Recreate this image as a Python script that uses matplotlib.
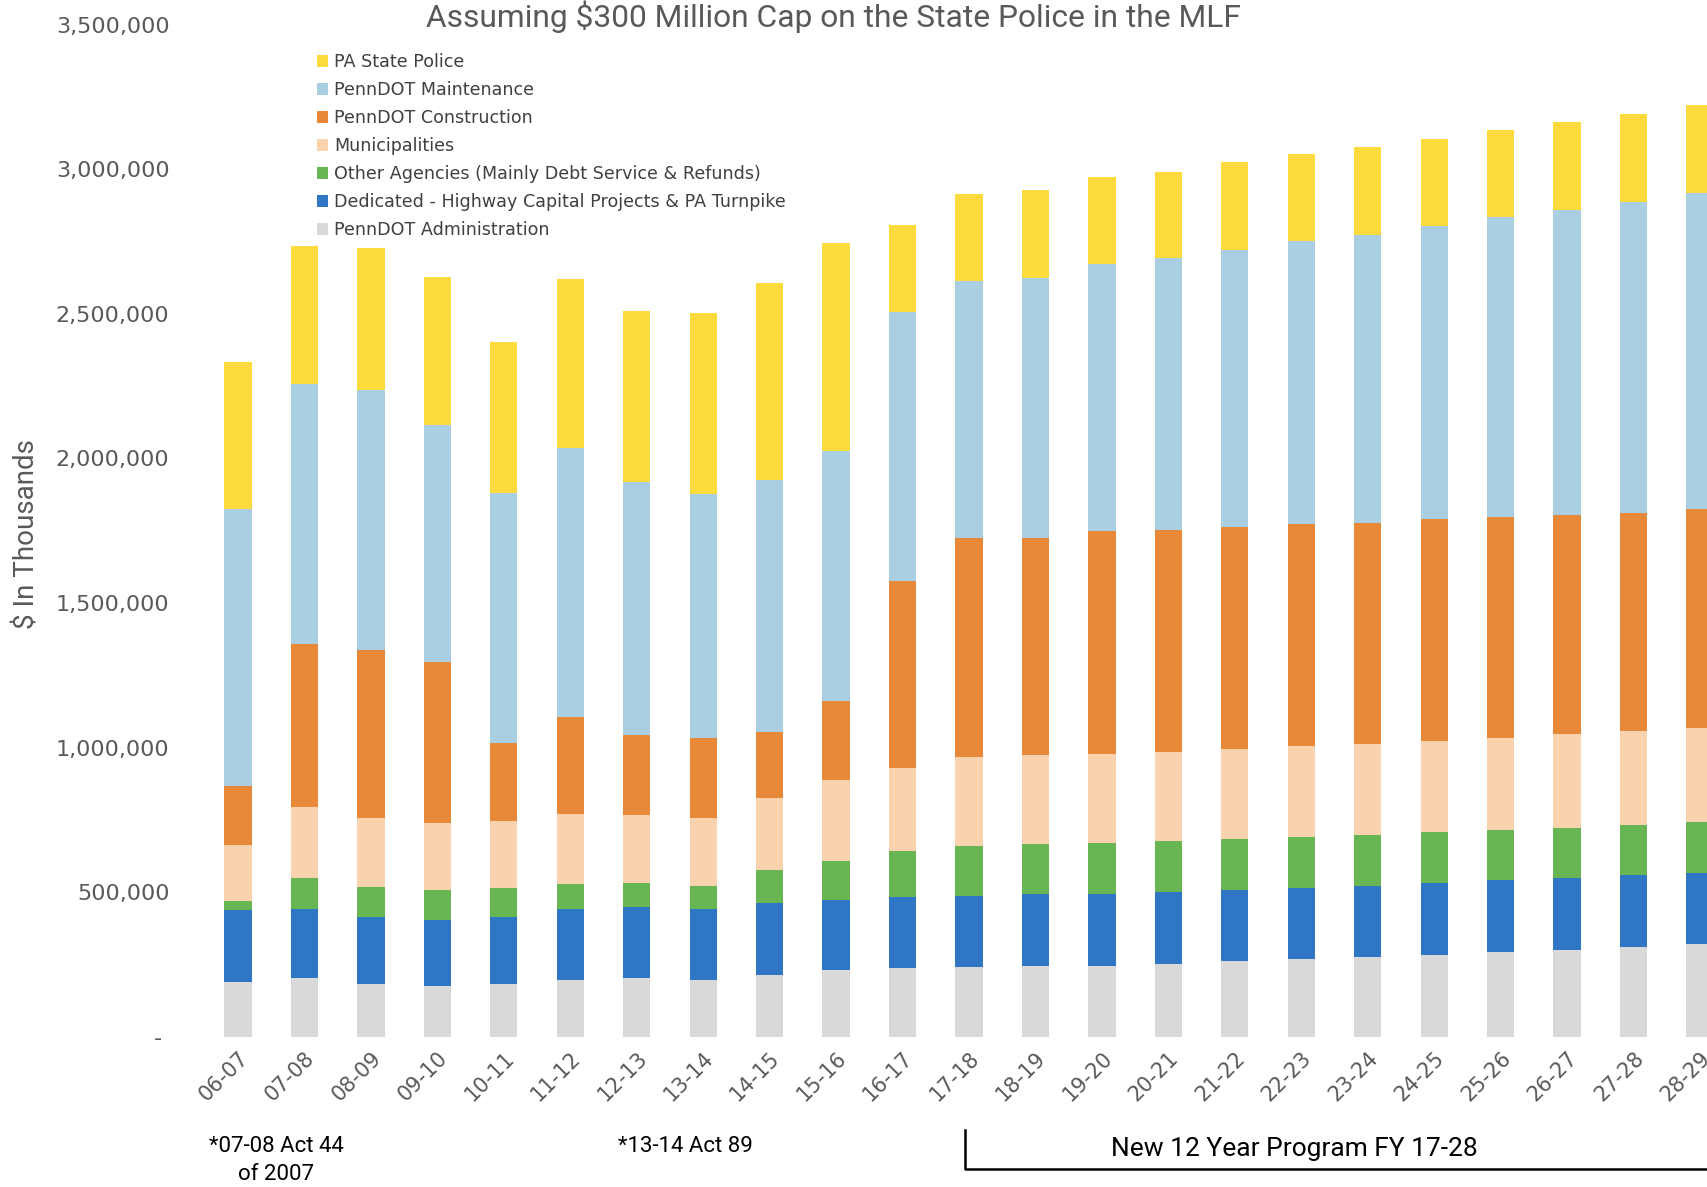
import numpy as np
import matplotlib
matplotlib.use("Agg")
import matplotlib.pyplot as plt
import matplotlib.transforms as mtransforms
from matplotlib.patches import Patch
from matplotlib.ticker import FuncFormatter

# fiscal years
years = ["06-07", "07-08", "08-09", "09-10", "10-11", "11-12", "12-13", "13-14",
         "14-15", "15-16", "16-17", "17-18", "18-19", "19-20", "20-21", "21-22",
         "22-23", "23-24", "24-25", "25-26", "26-27", "27-28", "28-29"]

# $ in thousands (bottom of stack first)
admin = [189000, 204000, 183000, 175000, 183000, 198000, 204000, 197000, 214000, 231000,
         238000, 241000, 244000, 246000, 252000, 261000, 269000, 277000, 284000, 294000,
         302000, 312000, 321000]
dedicated = [249000, 237000, 233000, 229000, 233000, 243000, 246000, 247000, 248000, 244000,
             247000, 246000, 249000, 250000, 249000, 246000, 246000, 246000, 249000, 247000,
             248000, 247000, 246000]
other = [32000, 109000, 103000, 103000, 99000, 88000, 83000, 79000, 116000, 134000,
         159000, 174000, 174000, 176000, 176000, 178000, 178000, 176000, 175000, 175000,
         174000, 174000, 175000]
munis = [194000, 246000, 239000, 232000, 233000, 241000, 234000, 235000, 247000, 279000,
         287000, 307000, 307000, 305000, 308000, 309000, 312000, 315000, 315000, 318000,
         322000, 324000, 327000]
construction = [204000, 562000, 580000, 559000, 270000, 337000, 277000, 276000, 230000, 273000,
                646000, 757000, 751000, 773000, 767000, 768000, 768000, 764000, 766000, 765000,
                760000, 756000, 757000]
maintenance = [956000, 898000, 900000, 817000, 862000, 930000, 875000, 844000, 872000, 865000,
               928000, 889000, 900000, 922000, 941000, 958000, 977000, 996000, 1015000, 1037000,
               1054000, 1073000, 1092000]
police = [510000, 479000, 488000, 513000, 522000, 584000, 589000, 624000, 680000, 718000,
          303000, 301000, 304000, 301000, 298000, 303000, 301000, 301000, 301000, 301000,
          304000, 303000, 305000]

stack = [
    ("PennDOT Administration", admin, "#D9D9D9"),
    ("Dedicated - Highway Capital Projects & PA Turnpike", dedicated, "#2F76C4"),
    ("Other Agencies (Mainly Debt Service & Refunds)", other, "#68B653"),
    ("Municipalities", munis, "#FAD3AE"),
    ("PennDOT Construction", construction, "#E8893A"),
    ("PennDOT Maintenance", maintenance, "#ABCFE2"),
    ("PA State Police", police, "#FDDB3C"),
]

W, H = 1708, 1187
fig = plt.figure(figsize=(W / 100, H / 100), dpi=100)
ax = fig.add_axes([175 / W, 150 / H, 1 - 175 / W, (1162.5 - 150) / H])

x = np.arange(len(years))
bottom = np.zeros(len(years))
handles = []
for label, vals, color in stack:
    ax.bar(x, vals, 0.41, bottom=bottom, color=color, linewidth=0)
    bottom += np.array(vals)
    handles.append(Patch(facecolor=color, label=label))

ax.set_xlim(-0.948, 22.12)
ax.set_ylim(0, 3500000)
ax.set_yticks(np.arange(0, 3500001, 500000))
ax.yaxis.set_major_formatter(FuncFormatter(lambda v, p: "- " if v == 0 else f"{int(v):,}"))
ax.set_xticks(x)
ax.set_xticklabels(years, rotation=45, ha="right", rotation_mode="anchor")
ax.tick_params(axis="y", length=0, pad=4, labelsize=16, labelcolor="#595959")
ax.tick_params(axis="x", length=0, pad=8, labelsize=15, labelcolor="#595959")
for s in ax.spines.values():
    s.set_visible(False)

leg = ax.legend(handles=handles[::-1], loc="upper left",
                bbox_to_anchor=(317 / W, 1 - 53 / H), bbox_transform=fig.transFigure,
                frameon=False, fontsize=12.6, handlelength=0.65, handleheight=0.65,
                handletextpad=0.35, labelspacing=0.57, borderpad=0, borderaxespad=0)
for t in leg.get_texts():
    t.set_color("#404040")

fig.text(0.488, 1 - 27 / H, "Assuming $300 Million Cap on the State Police in the MLF",
         ha="center", va="baseline", fontsize=22.9, color="#595959", family="Roboto")
fig.text(27 / W, 1 - 534 / H, "$ In Thousands", rotation=90, ha="center", va="center",
         fontsize=20, color="#595959", family="Roboto")

# notes below the axis, x in data units, y in figure units
tr = mtransforms.blended_transform_factory(ax.transData, fig.transFigure)
ax.text(0.57, 1 - 1147 / H, "*07-08 Act 44", transform=tr, ha="center", va="center",
        fontsize=16, family="Roboto", color="black")
ax.text(0.57, 1 - 1175 / H, "of 2007", transform=tr, ha="center", va="center",
        fontsize=16, family="Roboto", color="black")
ax.text(6.74, 1 - 1147 / H, "*13-14 Act 89", transform=tr, ha="center", va="center",
        fontsize=16, family="Roboto", color="black")
ax.text(15.9, 1 - 1149 / H, "New 12 Year Program FY 17-28", transform=tr, ha="center",
        va="center", fontsize=19, family="Roboto", color="black")
ax.plot([10.94, 10.94, 23], [1 - 1130 / H, 1 - 1169 / H, 1 - 1169 / H], transform=tr,
        color="black", linewidth=1.8, clip_on=False)

fig.savefig("out.png", dpi=100)
